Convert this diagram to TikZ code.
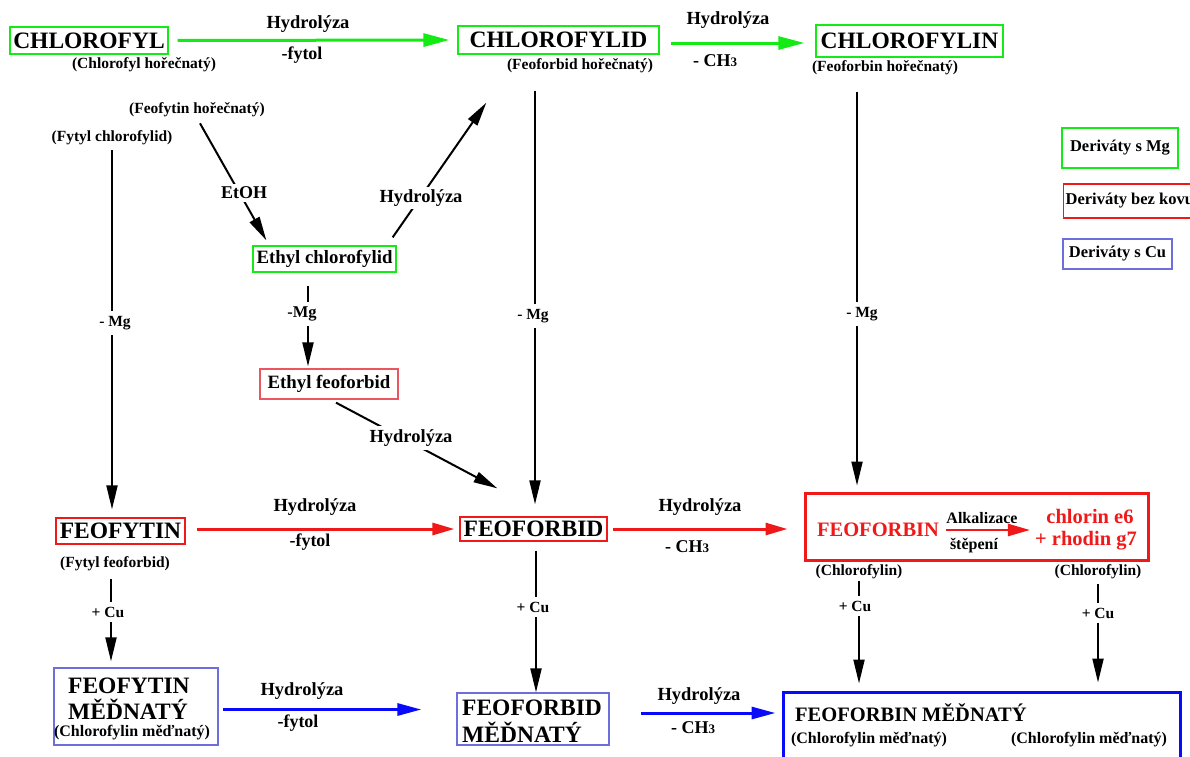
\documentclass[tikz,border=0pt]{standalone}
\usepackage{fontspec}
\setmainfont{Liberation Serif}
\usetikzlibrary{arrows.meta,calc}
\definecolor{gr}{RGB}{20,235,20}
\definecolor{rd}{RGB}{240,25,25}
\definecolor{rdl}{RGB}{235,85,95}
\definecolor{bl}{RGB}{10,10,250}
\definecolor{bll}{RGB}{110,110,220}
\tikzset{
  fs/.style={font=\fontsize{#1}{#1}\selectfont\bfseries, inner sep=0pt},
  big/.style={fs=23.5},
  hyd/.style={fs=18.5},
  lab/.style={fs=18},
  par/.style={fs=15.5},
  eth/.style={fs=18.8},
  leg/.style={fs=16.5},
  cut/.style={fill=white, inner xsep=2pt, inner ysep=5pt},
  gbox/.style={draw=gr, line width=1.3pt},
  rbox/.style={draw=rd, line width=1.3pt},
  lrbox/.style={draw=rdl, line width=1.3pt},
  bbox/.style={draw=bll, line width=1.3pt},
  gar/.style={line width=3pt, draw=gr, -{Triangle[length=26pt,width=13pt]}},
  rar/.style={line width=3pt, draw=rd, -{Triangle[length=22pt,width=12pt]}},
  bar/.style={line width=3pt, draw=bl, -{Triangle[length=24pt,width=12pt]}},
  kar/.style={line width=2pt, draw=black, -{Triangle[length=24pt,width=11pt]}},
}
\begin{document}
\begin{tikzpicture}[x=1pt,y=-1pt]
\useasboundingbox (0,0) rectangle (1190,756);
\fill[white] (0,0) rectangle (1190,756);

% ---- boxes ----
\node[big,gbox,minimum width=158pt,minimum height=27pt] (chl) at (89,40.5) {CHLOROFYL};
\node[big,gbox,minimum width=201pt,minimum height=28pt] (chlid) at (558.5,40) {CHLOROFYLID};
\node[big,gbox,minimum width=187pt,minimum height=32pt] (chlin) at (909.5,41) {CHLOROFYLIN};
\node[par] (chlp) at (144,65) {(Chlorofyl hořečnatý)};
\node[par] (chlidp) at (580,66) {(Feoforbid hořečnatý)};
\node[par] (chlinp) at (885,68) {(Feoforbin hořečnatý)};
\node[par] (fhp) at (197,110) {(Feofytin hořečnatý)};
\node[par] (fc) at (112,138) {(Fytyl chlorofylid)};
\node[eth,gbox,minimum width=143pt,minimum height=26pt] (ech) at (324.5,259) {Ethyl chlorofylid};
\node[eth,lrbox,minimum width=138pt,minimum height=30pt] (efe) at (329,384) {Ethyl feoforbid};
\node[big,rbox,minimum width=129pt,minimum height=26pt] (fyt) at (120.5,531) {FEOFYTIN};
\node[par] (ffp) at (115,564) {(Fytyl feoforbid)};
\node[big,rbox,minimum width=147pt,minimum height=24pt] (fbd) at (533.5,529) {FEOFORBID};
\node[draw=rd,line width=3pt,minimum width=343pt,minimum height=67pt] (fbin) at (976.5,526.5) {};
\node[fs=20.5,text=rd] (fbint) at (878,529.5) {FEOFORBIN};
\node[fs=16] (alk) at (982,518) {Alkalizace};
\node[fs=16] (stp) at (974,545.5) {štěpení};
\node[fs=20.5,text=rd] (ce) at (1090,516.5) {chlorin e6};
\node[fs=20.5,text=rd] (rg) at (1086,541) {+ rhodin g7};
\node[par] (clL) at (859,572) {(Chlorofylin)};
\node[par] (clR) at (1098,572) {(Chlorofylin)};

\node[bbox,minimum width=164pt,minimum height=77pt] (fycu) at (136,706.5) {};
\node[big,anchor=base west] (fycu1) at (68,693) {FEOFYTIN};
\node[big,anchor=base west] (fycu2) at (68,719) {MĚĎNATÝ};
\node[fs=16] (fycu3) at (132,732.5) {(Chlorofylin měďnatý)};

\node[bbox,minimum width=152pt,minimum height=52pt] (fbcu) at (533,719) {};
\node[big,anchor=base west] (fbcu1) at (462,715) {FEOFORBID};
\node[big,anchor=base west] (fbcu2) at (462,742) {MĚĎNATÝ};

\node[draw=bl,line width=3pt,minimum width=397pt,minimum height=110pt] (fbncu) at (981.5,747) {};
\node[fs=20.5,anchor=base west] (fbncu1) at (795,721) {FEOFORBIN MĚĎNATÝ};
\node[fs=16] (fbncu2) at (869,740) {(Chlorofylin měďnatý)};
\node[fs=16] (fbncu3) at (1089,740) {(Chlorofylin měďnatý)};

% ---- legend ----
\node[leg,gbox,minimum width=116pt,minimum height=40pt] (lg1) at (1120,148) {Deriváty s Mg};
\node[leg,draw=rd,line width=1.3pt,anchor=west,inner xsep=2pt,minimum height=34pt] (lg2) at (1063,201) {Deriváty bez kovu};
\node[leg,bbox,minimum width=109pt,minimum height=30pt] (lg3) at (1117.5,254) {Deriváty s Cu};

% ---- connector start points ----
\coordinate (vA) at ($(chlid.south)+(-23.5,36)$);
\coordinate (vB) at ($(chlin.south)+(-52.5,34)$);
\coordinate (vC) at ($(ffp.south)+(-4,8)$);
\coordinate (vD) at ($(fbd.south)+(2.5,9)$);

% ---- connectors ----
\draw[gar,shorten <=9pt,shorten >=8pt] (chl.east) -- (chlid.west);
\draw[gar] ($(chlid.east)+(11,3)$) -- ($(chlid.east -| chlin.west)+(-11,3)$);
\draw[kar,shorten <=5pt,shorten >=8pt] (fc.south) -- (fc.south |- fyt.north);
\draw[kar] ($(fhp.south)+(3,6)$) -- ($(ech.north west)+(14,-5)$);
\draw[kar] ($(ech.north east)+(-4,-8)$) -- ($(chlid.south west)+(29,48)$);
\draw[kar] ($(ech.south)+(-16.5,13)$) -- ($(efe.north)+(-21,-2)$);
\draw[kar] ($(efe.south)+(7,3)$) -- ($(fbd.north west)+(38,-28)$);
\draw[kar,shorten >=12pt] (vA) -- (vA |- fbd.north);
\draw[kar,shorten >=6pt] (vB) -- (vB |- fbin.north);
\draw[rar] ($(fyt.east)+(11,-2)$) -- ($(fbd.west)+(-5,0)$);
\draw[rar] ($(fbd.east)+(5,0)$) -- ($(fbd.east -| fbin.west)+(-16,0)$);
\draw[line width=2.5pt,draw=rd,-{Triangle[length=22pt,width=12pt]}] ($(fbint.east)+(7,0.5)$) -- ($(fbint.east -| rg.west)+(-5,0.5)$);
\draw[kar,shorten >=6pt] (vC) -- (vC |- fycu.north);
\draw[kar] (vD) -- (vD |- fbcu.north);
\draw[kar,shorten >=7pt] ($(clL.south)+(0,2)$) -- (clL.south |- fbncu.north);
\draw[kar,shorten >=8pt] ($(clR.south)+(0,5)$) -- (clR.south |- fbncu.north);
\draw[bar] ($(fycu.east)+(4,3)$) -- ($(fycu.east -| fbcu.west)+(-35,3)$);
\draw[bar] ($(fbcu.east)+(31,-6)$) -- ($(fbcu.east -| fbncu.west)+(-6,-6)$);

% ---- connector labels ----
\node[hyd] (h1) at (308,24) {Hydrolýza};
\node[lab] (f1) at (302,55) {-fytol};
\node[hyd] (h2) at (728,20) {Hydrolýza};
\node[lab] (c2) at (715,61) {- CH\fontsize{13}{13}\selectfont 3};
\node[par,cut] (m1) at (115,323) {- Mg};
\node[lab,cut,inner ysep=3pt] (et) at (244,193) {EtOH};
\node[hyd,cut,inner ysep=3pt] (h3) at (421,198) {Hydrolýza};
\node[fs=16.5,cut] (m2) at (302,314) {-Mg};
\node[hyd,cut,inner ysep=4pt] (h4) at (411,438) {Hydrolýza};
\node[par,cut] (m3) at (533,316) {- Mg};
\node[par,cut] (m4) at (862,314) {- Mg};
\node[hyd] (h5) at (315,507) {Hydrolýza};
\node[lab] (f5) at (310,542) {-fytol};
\node[hyd] (h6) at (700,507) {Hydrolýza};
\node[lab] (c6) at (687,547) {- CH\fontsize{13}{13}\selectfont 3};
\node[par,cut] (u1) at (108,612) {+ Cu};
\node[par,cut] (u2) at (533,607) {+ Cu};
\node[par,cut] (u3) at (855,606) {+ Cu};
\node[par,cut] (u4) at (1098,613) {+ Cu};
\node[hyd] (h7) at (302,691) {Hydrolýza};
\node[lab] (f7) at (298,723) {-fytol};
\node[hyd] (h8) at (699,696) {Hydrolýza};
\node[lab] (c8) at (693,728) {- CH\fontsize{13}{13}\selectfont 3};
\end{tikzpicture}
\end{document}
